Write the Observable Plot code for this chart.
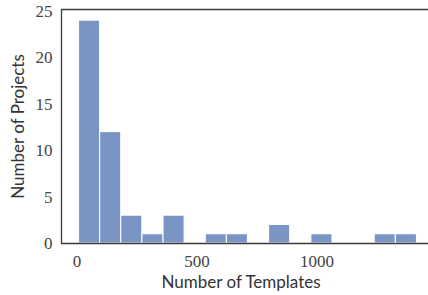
<!DOCTYPE html>
<html>
<head>
<meta charset="utf-8">
<script src="https://cdn.jsdelivr.net/npm/d3@7"></script>
<script src="https://cdn.jsdelivr.net/npm/@observablehq/plot@0.6"></script>
<style>
  html, body { margin: 0; padding: 0; background: #fff; }
  #chart svg { display: block; }
  g[aria-label="x-axis tick label"], g[aria-label="y-axis tick label"] {
    font-family: "Liberation Serif", serif;
    font-size: 17px;
  }
</style>
</head>
<body>
<div id="chart"></div>
<script>
// Histogram bin edges (Number of Templates) and counts (Number of Projects)
const binEdges = [8, 96, 184, 272, 360, 448, 536, 624, 712, 800, 888, 976, 1064, 1152, 1240, 1328, 1416];
const counts   = [24, 12, 3, 1, 3, 0, 1, 1, 0, 2, 0, 1, 0, 0, 1, 1];
const xTicks = [0, 500, 1000];
const yTicks = [0, 5, 10, 15, 20, 25];
const xLabel = "Number of Templates";
const yLabel = "Number of Projects";

const bins = counts.map((c, i) => ({x1: binEdges[i], x2: binEdges[i + 1], count: c})).filter(d => d.count > 0);

const xDomain = [-65, 1487];
const yDomain = [0, 25.2];

const chart = Plot.plot({
  width: 428,
  height: 295,
  marginLeft: 61,
  marginTop: 9,
  marginBottom: 52,
  marginRight: 0,
  x: {domain: xDomain, range: [61, 433.5]},
  y: {domain: yDomain},
  style: {background: "#fff"},
  marks: [
    Plot.rectY(bins, {x1: "x1", x2: "x2", y: "count", fill: "#7995c4", stroke: "#ffffff", strokeWidth: 1.1}),
    Plot.axisX(xTicks, {tickSize: 0, tickPadding: 11, label: null, tickFormat: d3.format("d"), fill: "#444"}),
    Plot.axisY(yTicks, {tickSize: 0, tickPadding: 9, label: null, fill: "#444"}),
    Plot.ruleY([0], {stroke: "#3a3a3a", strokeWidth: 1.3}),
    Plot.ruleY([yDomain[1]], {stroke: "#3a3a3a", strokeWidth: 1.3}),
    Plot.ruleX([xDomain[0]], {stroke: "#3a3a3a", strokeWidth: 1.3}),
    Plot.text([xLabel], {frameAnchor: "bottom", x: 683, dy: 44, text: d => d, fontSize: 17, fontFamily: "Lato", fill: "#333"}),
    Plot.text([yLabel], {frameAnchor: "left", dx: -43, rotate: -90, textAnchor: "middle", text: d => d, fontSize: 17, fontFamily: "Lato", fill: "#333"})
  ]
});
document.getElementById("chart").appendChild(chart);
</script>
</body>
</html>
